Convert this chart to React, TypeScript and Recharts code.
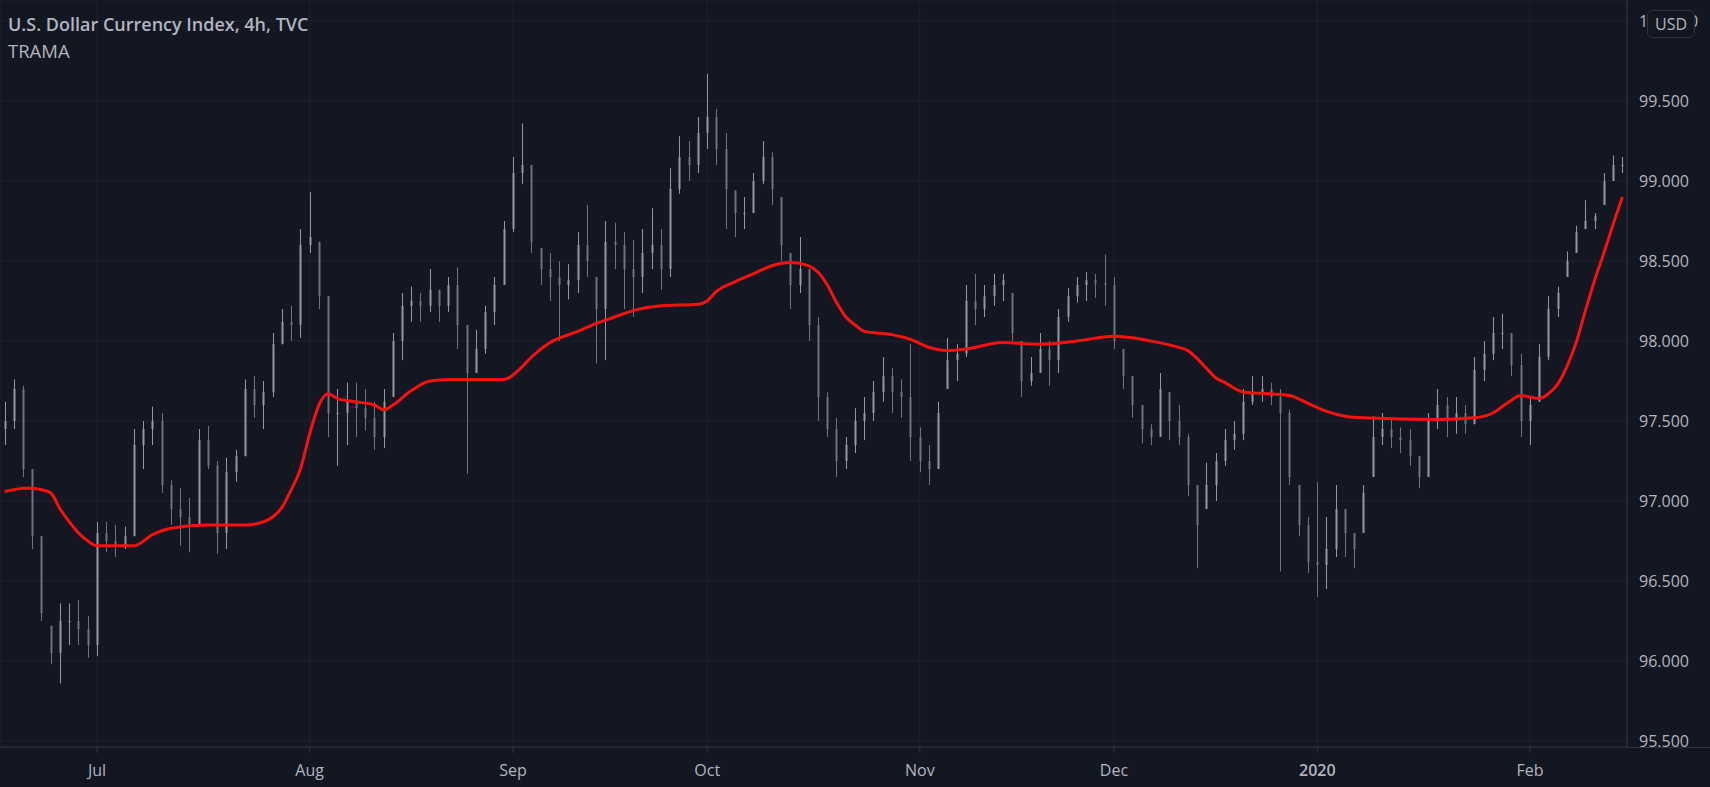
import React from 'react'
import {
  ComposedChart,
  Bar,
  Line,
  XAxis,
  YAxis,
  CartesianGrid
} from 'recharts'

// daily candles, first one is day -10 (10 trading days before Jul 1)
const firstDay = -10
const firstOpen = 97.45

const highs = [
  97.62, 97.76, 97.72, 97.2, 96.78, 96.22, 96.36, 96.36, 96.38, 96.28,
  96.87, 96.87, 96.85, 96.84, 97.45, 97.5, 97.59, 97.55, 97.13, 97.08,
  97.02, 97.45, 97.47, 97.25, 97.27, 97.32, 97.76, 97.78, 97.75, 98.05,
  98.2, 98.22, 98.7, 98.93, 98.62, 98.28, 97.7, 97.74, 97.74, 97.7,
  97.62, 97.7, 98.05, 98.3, 98.34, 98.3, 98.45, 98.32, 98.4, 98.46,
  98.1, 98.07, 98.22, 98.4, 98.75, 99.15, 99.36, 99.1, 98.58, 98.55,
  98.5, 98.48, 98.68, 98.85, 98.4, 98.75, 98.74, 98.68, 98.63, 98.7,
  98.83, 98.7, 99.08, 99.28, 99.25, 99.4, 99.67, 99.45, 99.3, 98.94,
  98.9, 99.05, 99.25, 99.18, 98.9, 98.55, 98.65, 98.45, 98.15, 97.68,
  97.52, 97.4, 97.58, 97.65, 97.75, 97.9, 97.83, 97.76, 97.98, 97.46,
  97.35, 97.62, 98.02, 97.98, 98.35, 98.42, 98.35, 98.42, 98.42, 98.3,
  98.0, 97.9, 98.05, 98.0, 98.2, 98.33, 98.4, 98.43, 98.42, 98.54,
  98.4, 97.95, 97.78, 97.6, 97.48, 97.8, 97.68, 97.6, 97.42, 97.1,
  97.24, 97.3, 97.45, 97.5, 97.7, 97.78, 97.78, 97.74, 97.7, 97.57,
  97.1, 96.9, 97.12, 96.9, 97.1, 96.95, 96.8, 97.1, 97.53, 97.55,
  97.52, 97.46, 97.45, 97.28, 97.55, 97.7, 97.65, 97.65, 97.6, 97.9,
  98.0, 98.15, 98.17, 98.05, 97.92, 97.65, 97.98, 98.28, 98.34, 98.56,
  98.72, 98.88, 98.8, 99.05, 99.16, 99.15
]

const lows = [
  97.35, 97.45, 97.15, 96.7, 96.25, 95.98, 95.86, 96.1, 96.1, 96.02,
  96.03, 96.68, 96.65, 96.7, 96.78, 97.2, 97.35, 97.05, 96.85, 96.72,
  96.68, 96.85, 97.2, 96.67, 96.7, 97.12, 97.28, 97.52, 97.45, 97.65,
  97.98, 98.0, 98.02, 98.55, 98.2, 97.4, 97.22, 97.35, 97.4, 97.44,
  97.32, 97.33, 97.65, 97.88, 98.12, 98.12, 98.18, 98.12, 98.18, 97.95,
  97.17, 97.8, 97.92, 98.1, 98.35, 98.68, 98.98, 98.55, 98.35, 98.25,
  98.0, 98.26, 98.3, 98.4, 97.86, 97.88, 98.45, 98.2, 98.15, 98.3,
  98.45, 98.32, 98.4, 98.92, 99.0, 99.05, 99.2, 99.1, 98.7, 98.65,
  98.7, 98.8, 98.98, 98.85, 98.5, 98.2, 98.3, 98.0, 97.5, 97.4,
  97.15, 97.2, 97.3, 97.38, 97.5, 97.62, 97.55, 97.52, 97.25, 97.18,
  97.1, 97.2, 97.7, 97.75, 97.9, 98.1, 98.15, 98.22, 98.25, 98.0,
  97.65, 97.72, 97.8, 97.72, 97.8, 98.12, 98.24, 98.25, 98.27, 98.22,
  97.95, 97.7, 97.52, 97.36, 97.35, 97.4, 97.38, 97.35, 97.03, 96.58,
  96.95, 97.0, 97.22, 97.32, 97.38, 97.6, 97.62, 97.6, 96.56, 97.1,
  96.78, 96.55, 96.4, 96.45, 96.65, 96.65, 96.58, 96.8, 97.15, 97.35,
  97.33, 97.3, 97.22, 97.08, 97.15, 97.45, 97.4, 97.42, 97.42, 97.48,
  97.75, 97.88, 97.95, 97.78, 97.4, 97.35, 97.62, 97.88, 98.15, 98.4,
  98.55, 98.7, 98.7, 98.85, 99.0, 99.05
]

const closes = [
  97.5, 97.7, 97.2, 96.78, 96.3, 96.05, 96.25, 96.25, 96.2, 96.1,
  96.8, 96.75, 96.72, 96.78, 97.35, 97.45, 97.5, 97.1, 96.95, 96.9,
  96.85, 97.38, 97.22, 96.8, 97.18, 97.28, 97.7, 97.6, 97.68, 97.98,
  98.12, 98.1, 98.6, 98.65, 98.28, 97.55, 97.55, 97.62, 97.58, 97.52,
  97.4, 97.62, 98.0, 98.22, 98.25, 98.22, 98.32, 98.22, 98.35, 98.1,
  97.8, 97.95, 98.18, 98.35, 98.7, 99.05, 99.1, 98.62, 98.45, 98.4,
  98.35, 98.38, 98.6, 98.5, 98.2, 98.62, 98.6, 98.45, 98.4, 98.55,
  98.6, 98.45, 98.95, 99.15, 99.1, 99.3, 99.4, 99.2, 98.95, 98.8,
  98.8, 99.0, 99.15, 98.95, 98.6, 98.35, 98.45, 98.1, 97.65, 97.45,
  97.25, 97.35, 97.5, 97.55, 97.68, 97.78, 97.68, 97.65, 97.4, 97.25,
  97.2, 97.55, 97.88, 97.92, 98.25, 98.2, 98.28, 98.35, 98.38, 98.05,
  97.75, 97.8, 97.95, 97.88, 98.15, 98.28, 98.35, 98.38, 98.36, 98.35,
  98.0, 97.78, 97.6, 97.45, 97.4, 97.7, 97.5, 97.4, 97.1, 96.85,
  97.1, 97.25, 97.38, 97.42, 97.62, 97.68, 97.7, 97.65, 97.55, 97.15,
  96.85, 96.62, 96.6, 96.7, 96.95, 96.8, 96.7, 97.05, 97.4, 97.45,
  97.4, 97.38, 97.28, 97.15, 97.5, 97.6, 97.5, 97.55, 97.48, 97.82,
  97.92, 98.05, 98.05, 97.85, 97.5, 97.6, 97.9, 98.2, 98.3, 98.5,
  98.68, 98.75, 98.78, 99.0, 99.1, 99.1
]

// TRAMA: [day, value]
const tramaPoints = [
  [-10, 97.06], [-9, 97.07], [-8, 97.08], [-7, 97.08], [-6, 97.07], [-5, 97.05],
  [-4, 96.95], [-3, 96.87], [-2, 96.8],
  [-1, 96.75], [0, 96.72], [4, 96.72], [6, 96.79], [8, 96.83], [12, 96.85],
  [16, 96.85], [18, 96.87], [19, 96.9], [20, 96.96], [21, 97.07], [22, 97.2],
  [23, 97.42], [24, 97.6], [25, 97.67], [26, 97.64], [28, 97.62], [30, 97.6],
  [31, 97.57], [32, 97.6], [34, 97.69], [36, 97.75], [38, 97.76], [44, 97.76],
  [46, 97.84], [47, 97.9], [49, 97.99], [52, 98.06], [54, 98.11], [56, 98.15],
  [58, 98.19], [61, 98.22], [65, 98.23], [66, 98.25], [67, 98.31], [69, 98.37],
  [71, 98.42], [73, 98.47], [75, 98.49], [77, 98.47], [78, 98.43], [79, 98.35],
  [80, 98.24], [81, 98.15], [82, 98.1], [83, 98.06], [86, 98.04], [88, 98.01],
  [90, 97.96], [92, 97.94], [94, 97.95], [98, 97.99], [102, 97.98], [106, 98.0],
  [110, 98.03], [112, 98.02], [114, 98.0], [117, 97.96], [118, 97.94], [119, 97.89],
  [120, 97.83], [121, 97.77], [122, 97.74], [124, 97.68], [127, 97.67], [129, 97.66],
  [131, 97.61], [133, 97.56], [135, 97.53], [137, 97.52], [145, 97.51], [149, 97.52],
  [151, 97.55], [152, 97.59], [153, 97.63], [154, 97.66], [155, 97.65], [156, 97.64],
  [157, 97.67], [158, 97.73], [159, 97.84], [160, 97.99], [161, 98.19], [162, 98.38],
  [163, 98.55], [164, 98.73], [165, 98.9]
]

const monthTicks = [0, 23, 45, 66, 89, 110, 132, 155]
const monthLabels = ['Jul', 'Aug', 'Sep', 'Oct', 'Nov', 'Dec', '2020', 'Feb']
const priceTicks = [95.5, 96, 96.5, 97, 97.5, 98, 98.5, 99, 99.5, 100]

const BG = '#131722'
const GRID = '#1f232e'
const AXIS = '#2f333e'
const TEXT = '#b2b5be'
const FONT = '"Open Sans", Roboto, sans-serif'
const UP = '#9598a1'
const DOWN = '#70737e'

const tramaByDay = new Map(tramaPoints.map(([d, v]) => [d, v]))

const rows = highs.map((h, i) => ({
  day: firstDay + i,
  high: h,
  low: lows[i],
  close: closes[i],
  open: i === 0 ? firstOpen : closes[i - 1],
  trama: tramaByDay.has(firstDay + i) ? tramaByDay.get(firstDay + i) : null
}))

const Candle = (props: any) => {
  const { x, y, width, height, payload } = props
  if (x == null || y == null || !payload) return null
  const top = Math.min(y, y + height)
  const h = Math.abs(height)
  const { high, low, open, close } = payload
  const span = high - low || 1
  const py = (v: number) => top + ((high - v) / span) * h
  const cx = Math.round(x + width / 2) + 0.5
  const b1 = Math.max(top, Math.min(py(open), py(close)))
  const b2 = Math.min(top + h, Math.max(py(open), py(close)))
  const color = close >= open ? UP : DOWN
  return (
    <g>
      <line x1={cx} x2={cx} y1={top} y2={top + h} stroke={color} strokeWidth={1} />
      <rect x={cx - 1} y={b1} width={2} height={Math.max(1, b2 - b1)} fill={color} />
    </g>
  )
}

const MonthTick = (props: any) => {
  const { x, y, payload } = props
  const i = monthTicks.indexOf(payload.value)
  const label = monthLabels[i] ?? ''
  return (
    <text
      x={x}
      y={y}
      dy="0.71em"
      textAnchor="middle"
      fill={TEXT}
      fontSize={16}
      fontFamily={FONT}
      fontWeight={label === '2020' ? 600 : 400}
    >
      {label}
    </text>
  )
}

const NoDot = () => <g />

export default function App() {
  return (
    <div style={{ position: 'relative', width: 1710, height: 787, background: BG, overflow: 'hidden' }}>
      <style>{`body{margin:0;background:${BG};}`}</style>
      <ComposedChart width={1710} height={787} data={rows} margin={{ top: 0, right: 0, bottom: 0, left: 0 }}>
        <CartesianGrid stroke={GRID} />
        <XAxis
          dataKey="day"
          type="category"
          ticks={monthTicks}
          interval={0}
          height={40}
          tick={<MonthTick />}
          tickSize={6}
          tickMargin={12}
          tickLine={{ stroke: AXIS }}
          axisLine={{ stroke: AXIS }}
        />
        <YAxis
          orientation="right"
          type="number"
          width={83}
          domain={[95.4625, 100.13125]}
          allowDataOverflow
          ticks={priceTicks}
          tickFormatter={(v: number) => v.toFixed(3)}
          tick={{ fill: TEXT, fontSize: 16, fontFamily: FONT }}
          tickLine={false}
          tickSize={0}
          tickMargin={12}
          axisLine={{ stroke: AXIS }}
        />
        <Bar
          dataKey={(d: any) => [d.low, d.high]}
          barSize={3}
          shape={<Candle />}
          isAnimationActive={false}
        />
        <Line
          dataKey="trama"
          type="monotone"
          stroke="#fb1010"
          strokeWidth={3}
          dot={<NoDot />}
          activeDot={false}
          connectNulls
          isAnimationActive={false}
        />
      </ComposedChart>
      <div style={{ position: 'absolute', left: 1627, top: 747, width: 83, height: 1, background: AXIS }} />
      <div
        style={{
          position: 'absolute', left: 8, top: 12, color: TEXT, fontFamily: FONT,
          fontSize: 18, fontWeight: 600, whiteSpace: 'nowrap'
        }}
      >
        U.S. Dollar Currency Index, 4h, TVC
      </div>
      <div
        style={{
          position: 'absolute', left: 8, top: 38, color: TEXT, fontFamily: FONT,
          fontSize: 18.5, whiteSpace: 'nowrap'
        }}
      >
        TRAMA
      </div>
      <div
        style={{
          position: 'absolute', left: 1647, top: 10, width: 46, height: 26,
          border: `1px solid ${AXIS}`, borderRadius: 5, background: BG, color: TEXT,
          fontFamily: FONT, fontSize: 16, display: 'flex', alignItems: 'center',
          justifyContent: 'center'
        }}
      >
        USD
      </div>
    </div>
  )
}
